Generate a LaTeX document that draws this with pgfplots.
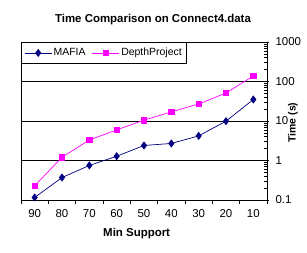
\documentclass[border=0pt]{standalone}
\usepackage{pgfplots}
\pgfplotsset{compat=1.18}
\usepackage{fontspec}
\setmainfont{Liberation Sans}
\definecolor{mafia}{RGB}{0,0,128}
\definecolor{dp}{RGB}{255,0,255}
\begin{document}
\begin{tikzpicture}[x=1bp,y=1bp]
\useasboundingbox (0,0) rectangle (307,253);
\node[font=\fontsize{11.5}{14}\selectfont\bfseries] at (153,233) {Time Comparison on Connect4.data};
\begin{axis}[
  at={(21bp,53bp)}, anchor=south west,
  scale only axis, width=246bp, height=158bp,
  ymode=log, ymin=0.1, ymax=1000,
  xmin=-0.5, xmax=8.5,
  xtick={-0.5,0.5,...,8.5},
  x tick label as interval,
  xticklabels={90,80,70,60,50,40,30,20,10},
  xtick pos=bottom,
  ytick={0.1,1,10,100,1000},
  yticklabels={0.1,1,10,100,1000},
  ytick pos=right,
  yticklabel pos=right,
  yticklabel style={anchor=west, xshift=3bp},
  xticklabel style={yshift=-2bp},
  x tick style={black, line width=0.8pt},
  y tick style={black, line width=0.6pt},
  xtick align=outside,
  ytick align=center,
  major tick length=4bp, minor tick length=3bp,
  minor y tick style={black, line width=0.5pt, xshift=-1.5bp},
  ymajorgrids, major grid style={black, line width=0.8pt},
  axis line style={black, line width=0.8pt},
  tick label style={font=\fontsize{11.5}{13}\selectfont},
  xlabel={\bfseries Min Support},
  xlabel style={font=\fontsize{11.5}{14}\selectfont, at={(axis description cs:0.47,0)}, anchor=center, yshift=-34bp},
  ylabel={\bfseries Time (s)},
  ylabel style={font=\fontsize{10.5}{12}\selectfont, at={(axis description cs:1.105,0.49)}, rotate=0, anchor=center},
  legend columns=2,
  legend image code/.code={\draw[mark repeat=2,mark phase=2] plot coordinates {(0bp,0bp) (13.5bp,0bp) (27bp,0bp)};},
  legend style={at={(0,1)}, anchor=north west, draw=black, line width=0.8pt, fill=white,
    font=\fontsize{10.5}{12}\selectfont, inner xsep=3bp, inner ysep=4bp, row sep=0pt,
    nodes={inner xsep=1.5bp},
    /tikz/every even column/.append style={column sep=5bp}},
  legend cell align=left,
]
\addplot[mafia, line width=0.7pt, mark=diamond*, mark size=3.5bp, mark options={solid, fill=mafia}]
 coordinates {(0,0.116) (1,0.37) (2,0.75) (3,1.28) (4,2.4) (5,2.7) (6,4.2) (7,9.9) (8,35)};
\addlegendentry{MAFIA}
\addplot[dp, line width=0.7pt, mark=square*, mark size=2.8bp, mark options={solid, fill=dp}]
 coordinates {(0,0.23) (1,1.21) (2,3.3) (3,5.95) (4,10.5) (5,17) (6,27) (7,51) (8,138)};
\addlegendentry{DepthProject}
\end{axis}
\end{tikzpicture}
\end{document}
